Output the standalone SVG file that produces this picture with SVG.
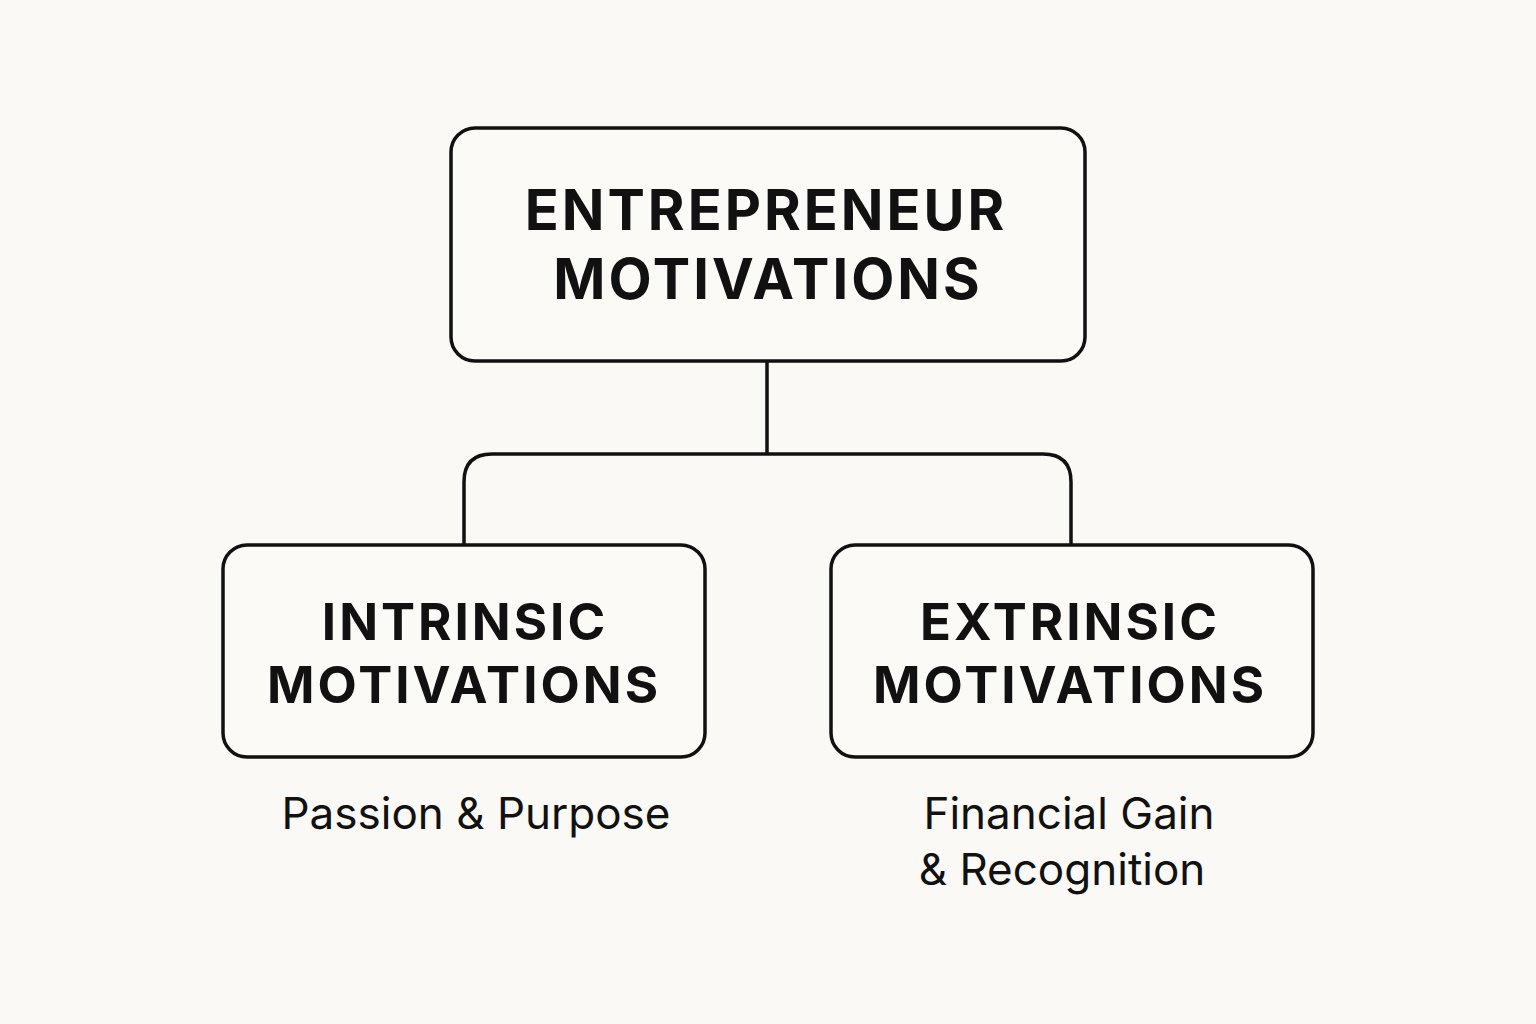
<svg xmlns="http://www.w3.org/2000/svg" width="1536" height="1024" viewBox="0 0 1536 1024">
<style>
.box{fill:#fbfaf7;stroke:#111;stroke-width:3.5}
.conn{fill:none;stroke:#111;stroke-width:3.5}
.h{font-family:Inter,"Liberation Sans",sans-serif;font-weight:700;fill:#111;text-anchor:middle;letter-spacing:3px}
.s{font-family:Inter,"Liberation Sans",sans-serif;font-weight:400;fill:#111;font-size:44px}
</style>
<rect width="1536" height="1024" fill="#faf9f5"/>
<g id="connectors">
<path class="conn" d="M767 361 V454"/>
<path class="conn" d="M464 544 V482 Q464 454 492 454 H1043 Q1071 454 1071 482 V544"/>
</g>
<g id="root">
<rect class="box" x="451" y="128" width="634" height="233" rx="24"/>
<text class="h" x="766" y="230" font-size="56" letter-spacing="2.5">ENTREPRENEUR</text>
<text class="h" x="768" y="299" font-size="56" letter-spacing="2.5">MOTIVATIONS</text>
</g>
<g id="intrinsic">
<rect class="box" x="223" y="545" width="482" height="212" rx="24"/>
<text class="h" x="465" y="640" font-size="51">INTRINSIC</text>
<text class="h" x="464" y="703" font-size="51">MOTIVATIONS</text>
<text class="s" x="476" y="829" text-anchor="middle">Passion &amp; Purpose</text>
</g>
<g id="extrinsic">
<rect class="box" x="831" y="545" width="482" height="212" rx="24"/>
<text class="h" x="1070" y="640" font-size="51">EXTRINSIC</text>
<text class="h" x="1070" y="703" font-size="51">MOTIVATIONS</text>
<text class="s" x="1069" y="829" text-anchor="middle">Financial Gain</text>
<text class="s" x="1062" y="885" text-anchor="middle">&amp; Recognition</text>
</g>
</svg>
